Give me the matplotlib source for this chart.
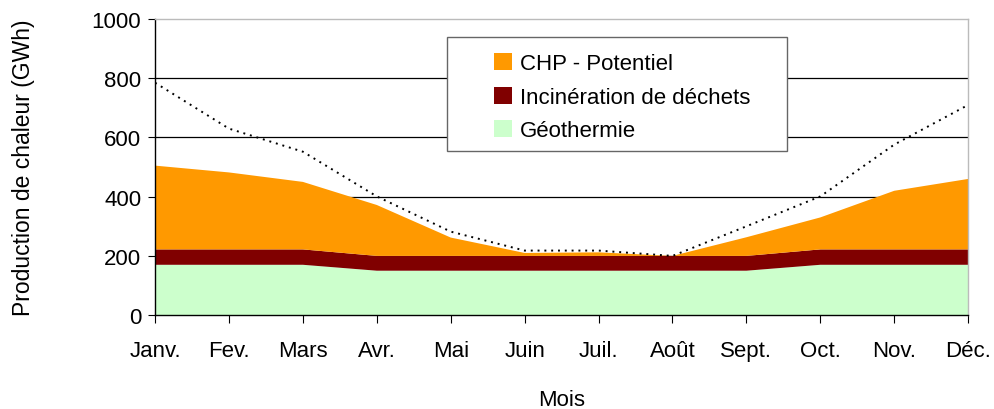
import matplotlib.pyplot as plt
from matplotlib.patches import Patch, Rectangle

plt.rcParams['font.family'] = ['Liberation Sans', 'DejaVu Sans']

mois = ["Janv.", "Fev.", "Mars", "Avr.", "Mai", "Juin",
        "Juil.", "Août", "Sept.", "Oct.", "Nov.", "Déc."]
geothermie = [170, 170, 170, 150, 150, 150, 150, 150, 150, 170, 170, 170]
incineration = [52, 52, 52, 50, 50, 50, 50, 50, 50, 52, 52, 52]
chp_potentiel = [283, 260, 228, 172, 62, 10, 12, 0, 63, 108, 198, 238]
demande = [785, 630, 552, 401, 282, 218, 218, 200, 300, 401, 576, 710]

c_chp = "#FF9900"
c_inc = "#800000"
c_geo = "#CCFFCC"

fig = plt.figure(figsize=(9.94, 4.10), dpi=100)
ax = fig.add_axes([0.156, 0.229, 0.818, 0.722])

x = list(range(len(mois)))
ax.stackplot(x, geothermie, incineration, chp_potentiel,
             colors=[c_geo, c_inc, c_chp], linewidth=0, zorder=2)
ax.plot(x, demande, color="black", linestyle=(0, (1, 2.5)),
        linewidth=1.4, zorder=3)

ax.set_xlim(0, 11)
ax.set_ylim(0, 1000)
ax.set_xticks(x)
ax.set_xticklabels(mois, fontsize=16)
ax.set_yticks(range(0, 1001, 200))
ax.tick_params(axis="y", labelsize=16, length=5, direction="out", pad=5)
ax.tick_params(axis="x", length=6, direction="out", pad=12)

for v in (200, 400, 600, 800):
    ax.axhline(v, color="black", linewidth=0.9, zorder=1)

ax.spines["top"].set_color("#BBBBBB")
ax.spines["right"].set_color("#BBBBBB")
ax.spines["left"].set_color("black")
ax.spines["bottom"].set_color("black")
for s in ax.spines.values():
    s.set_linewidth(1.0)

ax.set_xlabel("Mois", fontsize=16, labelpad=20)
ax.set_ylabel("Production de chaleur (GWh)", fontsize=16.5, labelpad=41)

# legend box drawn separately so the entries can sit off-centre inside it
ax.add_patch(Rectangle((0.359, 0.554), 0.418, 0.385, transform=ax.transAxes,
                       facecolor="white", edgecolor="#666666", linewidth=1.0,
                       zorder=5))
handles = [Patch(facecolor=c_chp, edgecolor="none", label="CHP - Potentiel"),
           Patch(facecolor=c_inc, edgecolor="none", label="Incinération de déchets"),
           Patch(facecolor=c_geo, edgecolor="none", label="Géothermie")]
leg = ax.legend(handles=handles, loc="upper left", bbox_to_anchor=(0.417, 0.885),
                fontsize=16, frameon=False, handlelength=0.8, handleheight=0.8,
                borderpad=0, labelspacing=0.55, handletextpad=0.35,
                borderaxespad=0)
leg.set_zorder(6)

fig.savefig("out.png", dpi=100)
